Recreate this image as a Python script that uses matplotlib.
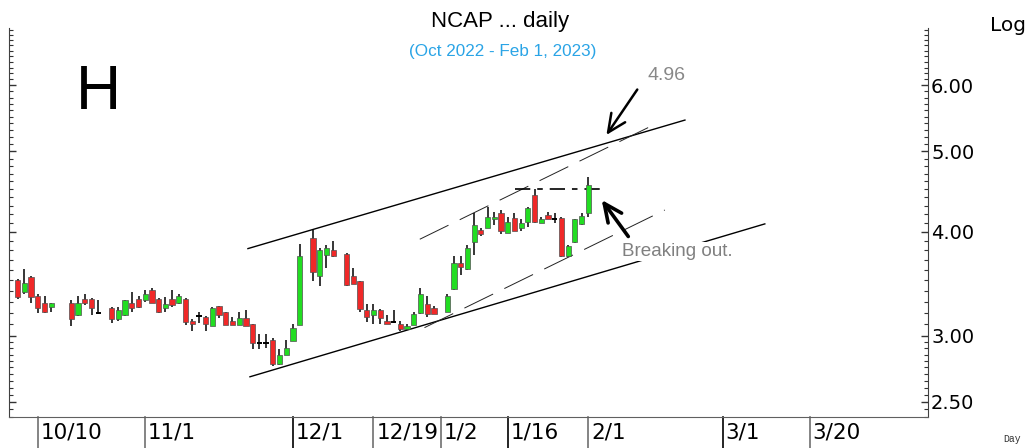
import numpy as np
import matplotlib.pyplot as plt
import matplotlib.transforms as mtransforms
from matplotlib.ticker import FixedLocator, FixedFormatter, NullFormatter

plt.rcParams['lines.scale_dashes'] = False

# trading-day slot of each candle (Oct 10 = slot 3)
slots = [0, 1, 2, 3, 4, 5, 8, 9, 10, 11, 12, 14, 15, 16, 17, 18, 19, 20, 21, 22,
         23, 24, 25, 26, 27, 28, 29, 30, 31, 32, 33, 34, 35, 36, 37, 38, 39, 40, 41, 42,
         44, 45, 46, 47, 49, 50, 51, 52, 53, 54, 55, 56, 57, 58, 59, 60, 61, 62, 64, 65,
         66, 67, 68, 69, 70, 71, 72, 73, 74, 75, 76, 77, 78, 79, 80, 81, 82, 83, 84, 85]
opens = [3.50, 3.39, 3.53, 3.35, 3.29, 3.25, 3.29, 3.18, 3.32, 3.32, 3.21, 3.24, 3.14, 3.18, 3.29, 3.32, 3.31, 3.41, 3.32, 3.24,
         3.32, 3.29, 3.32, 3.13, 3.17, 3.16, 3.08, 3.26, 3.21, 3.13, 3.09, 3.15, 3.10, 2.94, 2.94, 2.97, 2.78, 2.85, 2.96, 3.09,
         3.93, 3.54, 3.75, 3.81, 3.76, 3.54, 3.49, 3.22, 3.18, 3.22, 3.13, 3.12, 3.10, 3.06, 3.09, 3.20, 3.28, 3.24, 3.21, 3.42,
         3.67, 3.61, 3.89, 4.02, 4.04, 4.14, 4.22, 3.99, 4.16, 4.04, 4.11, 4.43, 4.10, 4.19, 4.14, 4.16, 3.74, 3.89, 4.09, 4.22]
highs = [3.51, 3.61, 3.54, 3.37, 3.35, 3.29, 3.31, 3.35, 3.37, 3.33, 3.31, 3.25, 3.25, 3.31, 3.39, 3.35, 3.41, 3.43, 3.33, 3.34,
         3.41, 3.37, 3.33, 3.14, 3.21, 3.17, 3.25, 3.26, 3.21, 3.16, 3.21, 3.22, 3.10, 3.02, 3.02, 2.98, 2.89, 2.97, 3.10, 3.87,
         4.02, 3.83, 3.86, 3.90, 3.77, 3.62, 3.49, 3.28, 3.28, 3.23, 3.18, 3.22, 3.13, 3.10, 3.21, 3.43, 3.35, 3.26, 3.37, 3.74,
         3.74, 3.86, 4.22, 4.04, 4.29, 4.23, 4.25, 4.17, 4.21, 4.14, 4.28, 4.51, 4.17, 4.23, 4.21, 4.17, 3.86, 4.15, 4.21, 4.66]
lows = [3.32, 3.37, 3.29, 3.20, 3.20, 3.21, 3.08, 3.17, 3.27, 3.18, 3.19, 3.11, 3.13, 3.17, 3.21, 3.24, 3.30, 3.29, 3.20, 3.21,
        3.25, 3.28, 3.09, 3.04, 3.11, 3.04, 3.08, 3.15, 3.09, 3.09, 3.09, 3.08, 2.89, 2.89, 2.90, 2.76, 2.77, 2.85, 2.96, 3.09,
        3.49, 3.44, 3.62, 3.73, 3.44, 3.46, 3.21, 3.12, 3.10, 3.10, 3.10, 3.11, 3.04, 3.05, 3.09, 3.19, 3.16, 3.19, 3.21, 3.41,
        3.55, 3.60, 3.75, 3.95, 4.04, 4.08, 3.98, 3.99, 4.01, 4.01, 4.06, 4.10, 4.10, 4.14, 4.10, 3.73, 3.73, 3.88, 4.08, 4.17]
closes = [3.34, 3.47, 3.34, 3.24, 3.21, 3.29, 3.14, 3.29, 3.29, 3.24, 3.20, 3.14, 3.22, 3.31, 3.24, 3.25, 3.37, 3.29, 3.21, 3.28,
          3.27, 3.35, 3.12, 3.10, 3.17, 3.10, 3.24, 3.18, 3.09, 3.09, 3.15, 3.08, 2.94, 2.94, 2.94, 2.78, 2.85, 2.90, 3.07, 3.74,
          3.58, 3.81, 3.83, 3.74, 3.45, 3.46, 3.23, 3.16, 3.22, 3.15, 3.10, 3.12, 3.06, 3.08, 3.19, 3.37, 3.19, 3.19, 3.35, 3.67,
          3.63, 3.83, 4.08, 3.98, 4.17, 4.17, 4.01, 4.11, 4.01, 4.10, 4.27, 4.11, 4.14, 4.15, 4.14, 3.74, 3.85, 4.14, 4.18, 4.55]

xtick_slots = [3, 19, 41, 53, 63, 73, 85, 105, 118]
xtick_labels = ['10/10', '11/1', '12/1', '12/19', '1/2', '1/16', '2/1', '3/1', '3/20']
xtick_dark = [False, False, True, False, False, True, False, True, False]

ytick_vals = [2.5, 3.0, 4.0, 5.0, 6.0]
ytick_labels = ['2.50', '3.00', '4.00', '5.00', '6.00']

# drawn trend lines: (slot start, slot end), (price start, price end)
upper_line = ([34.3, 99.4], [3.82, 5.45])
lower_line = ([34.6, 111.3], [2.68, 4.09])
upper_dash = ([59.9, 95.4], [3.92, 5.41])
lower_dash = ([60.6, 96.4], [3.07, 4.25])
resist_line = ([74.1, 87.5], [4.51, 4.51])

RED = '#f02828'
GREEN = '#22dd22'

fig = plt.figure(figsize=(10.26, 4.48), dpi=100)
ax = fig.add_axes([0.00906, 0.0699, 0.8957, 0.8676])
ax.set_yscale('log')

w = 0.78
for s, o, h, l, c in zip(slots, opens, highs, lows, closes):
    ax.vlines(s, l, h, color='black', lw=1.1, zorder=2)
    if abs(c - o) < 0.012:
        ax.hlines(c, s - w / 2, s + w / 2, color='black', lw=1.4, zorder=3)
    else:
        col = GREEN if c > o else RED
        ax.bar(s, abs(c - o), bottom=min(o, c), width=w, color=col,
               edgecolor='#505050', lw=0.5, zorder=3)

ax.plot(*upper_line, color='black', lw=1.0, zorder=1)
ax.plot(*lower_line, color='black', lw=1.0, zorder=1)
ax.plot(*upper_dash, color='#222222', lw=0.7, ls=(0, (23, 9)), zorder=1)
ax.plot(*lower_dash, color='#222222', lw=0.7, ls=(0, (23, 9)), zorder=1)
ax.plot(*resist_line, color='black', lw=1.2, ls=(0, (11, 5, 4, 5)), zorder=1)

# arrows and notes
ax.annotate('', xy=(87.7, 5.23), xytext=(92.3, 5.93),
            arrowprops=dict(arrowstyle='->,head_length=1.3,head_width=0.6',
                            lw=1.8, color='black', shrinkA=0, shrinkB=0))
ax.annotate('', xy=(87.0, 4.37), xytext=(90.96, 3.95),
            arrowprops=dict(arrowstyle='->,head_length=1.3,head_width=0.6',
                            lw=2.6, color='black', shrinkA=0, shrinkB=0))
ax.text(96.7, 6.17, '4.96', ha='center', va='center', color='#888888',
        fontsize=14, family='Liberation Sans')
ax.text(90.0, 3.79, 'Breaking out.', ha='left', va='center', color='#808080',
        fontsize=13.6, family='Liberation Sans', zorder=5,
        bbox=dict(facecolor='white', edgecolor='none', pad=0.5))

ax.set_xlim(-1.25, 135.65)
ax.set_ylim(2.40, 7.03)
ax.set_xticks([])

ax.yaxis.set_major_locator(FixedLocator(ytick_vals))
ax.yaxis.set_major_formatter(FixedFormatter(ytick_labels))
minor = np.round(np.concatenate([np.arange(2.40, 3.0, 0.05), np.arange(3.0, 7.01, 0.1)]), 2)
ax.yaxis.set_minor_locator(FixedLocator([m for m in minor if m not in ytick_vals]))
ax.yaxis.set_minor_formatter(NullFormatter())
ax.tick_params(axis='y', which='both', direction='in', left=True, right=True,
               labelleft=False, labelright=True, labelsize=14, pad=2, color='#333333')
ax.tick_params(axis='y', which='major', length=5, width=1.0)
ax.tick_params(axis='y', which='minor', length=3, width=0.8)

ax.spines['top'].set_visible(False)
ax.spines['left'].set_color('#404040')
ax.spines['right'].set_color('#404040')
ax.spines['bottom'].set_color('#606060')

trans = mtransforms.blended_transform_factory(ax.transData, ax.transAxes)
for s, lab, dark in zip(xtick_slots, xtick_labels, xtick_dark):
    ax.plot([s, s], [0, -0.09], transform=trans, clip_on=False,
            color='black' if dark else '#707070', lw=1.2)
    ax.annotate(lab, xy=(s, 0), xycoords=trans, xytext=(2, -4),
                textcoords='offset points', ha='left', va='top', fontsize=15.5)

fig.text(0.4873, 0.953, 'NCAP ... daily', ha='center', va='center',
         fontsize=16, family='Liberation Sans')
fig.text(0.4903, 0.884, '(Oct 2022 - Feb 1, 2023)', ha='center', va='center',
         fontsize=12.3, family='Liberation Sans', color='#2aa4e6')
fig.text(0.0955, 0.7935, 'H', ha='center', va='center', fontsize=45,
         family='Liberation Sans')
fig.text(0.965, 0.944, 'Log', ha='left', va='center', fontsize=14.5)
fig.text(0.9776, 0.02, 'Day', ha='left', va='center', fontsize=7,
         family='Liberation Mono', color='#333333')

fig.savefig('out.png', dpi=100)
